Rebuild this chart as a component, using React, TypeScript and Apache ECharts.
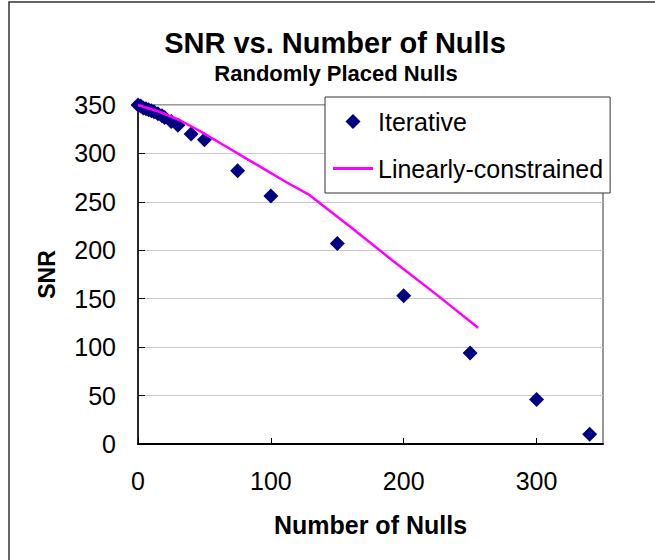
import React, { useEffect, useRef } from "react";
import * as echarts from "echarts";

const iterX = [0, 2, 4, 6, 8, 10, 12, 15, 18, 20, 25, 30, 40, 50, 75, 100, 150, 200, 250, 300, 340];
const iterY = [350, 349, 347, 346, 345, 344, 343, 341, 339, 337, 333, 329, 320, 314, 282, 256, 207, 153, 94, 46, 10];

const lineX = [0, 16, 32, 48, 64, 80, 96, 112, 128, 160, 192, 224, 256];
const lineY = [350, 343, 334, 322, 309, 296, 283, 270, 258, 224, 189, 155, 120];

const titleText = "SNR vs. Number of Nulls";
const subtitleText = "Randomly Placed Nulls";
const xName = "Number of Nulls";
const yName = "SNR";
const seriesNames = ["Iterative", "Linearly-constrained"];

const FONT = "'Liberation Sans', Arial, sans-serif";

export default function App() {
  const ref = useRef<HTMLDivElement>(null);
  useEffect(() => {
    if (!ref.current) return;
    const chart = echarts.init(ref.current, undefined, { renderer: "svg" });
    chart.setOption({
      animation: false,
      backgroundColor: "#ffffff",
      textStyle: { fontFamily: FONT },
      graphic: [
        {
          type: "rect",
          shape: { x: 9, y: 2, width: 700, height: 620 },
          style: { fill: "none", stroke: "#333333", lineWidth: 1.5 },
          silent: true,
        },
        {
          type: "text",
          x: 335,
          y: 43,
          style: {
            text: titleText,
            fontSize: 29,
            fontWeight: "bold",
            fontFamily: FONT,
            fill: "#000",
            align: "center",
            verticalAlign: "middle",
            textAlign: "center",
            textVerticalAlign: "middle",
          },
        },
        {
          type: "text",
          x: 336,
          y: 73,
          style: {
            text: subtitleText,
            fontSize: 22,
            fontWeight: "bold",
            fontFamily: FONT,
            fill: "#000",
            align: "center",
            verticalAlign: "middle",
            textAlign: "center",
            textVerticalAlign: "middle",
          },
        },
      ],
      legend: {
        orient: "vertical",
        left: 325,
        top: 97,
        padding: [12, 7, 12, 8],
        itemGap: 22,
        itemWidth: 40,
        itemHeight: 15,
        symbolKeepAspect: true,
        backgroundColor: "#ffffff",
        borderColor: "#333333",
        borderWidth: 1,
        textStyle: { fontSize: 25, color: "#000", fontFamily: FONT },
        data: [
          { name: seriesNames[0], icon: "path://M7.5,0L15,7.5L7.5,15L0,7.5Z" },
          { name: seriesNames[1], icon: "path://M0,0L40,0L40,3L0,3Z" },
        ],
      },
      grid: {
        left: 138,
        top: 105,
        width: 465,
        height: 339,
        show: true,
        borderColor: "#999999",
        borderWidth: 2,
        backgroundColor: "#ffffff",
      },
      xAxis: {
        type: "value",
        min: 0,
        max: 350,
        interval: 100,
        name: xName,
        nameLocation: "middle",
        nameGap: 68,
        nameTextStyle: { fontSize: 25, fontWeight: "bold", color: "#000", fontFamily: FONT },
        axisLine: { show: true, onZero: false, lineStyle: { color: "#000", width: 2 } },
        axisTick: { show: true, inside: true, length: 6, lineStyle: { color: "#000" } },
        axisLabel: { fontSize: 25, color: "#000", margin: 24, showMaxLabel: false, fontFamily: FONT },
        splitLine: { show: false },
      },
      yAxis: {
        type: "value",
        min: 0,
        max: 350,
        interval: 50,
        name: yName,
        nameLocation: "middle",
        nameGap: 80,
        nameTextStyle: { fontSize: 23, fontWeight: "bold", color: "#000", fontFamily: FONT },
        axisLine: { show: true, onZero: false, lineStyle: { color: "#000", width: 1.5 } },
        axisTick: { show: true, inside: true, length: 7, lineStyle: { color: "#000" } },
        axisLabel: { fontSize: 25, color: "#000", margin: 22, fontFamily: FONT },
        splitLine: { show: true, lineStyle: { color: "#c8c8c8", width: 1 } },
      },
      series: [
        {
          name: seriesNames[0],
          type: "scatter",
          symbol: "diamond",
          symbolSize: 15,
          clip: false,
          itemStyle: { color: "#000080", opacity: 1 },
          data: iterX.map((x, i) => [x, iterY[i]]),
          z: 2,
        },
        {
          name: seriesNames[1],
          type: "line",
          symbol: "none",
          showSymbol: false,
          clip: false,
          lineStyle: { color: "#ff00ff", width: 2.5 },
          itemStyle: { color: "#ff00ff" },
          data: lineX.map((x, i) => [x, lineY[i]]),
          z: 3,
        },
      ],
    });
    return () => chart.dispose();
  }, []);
  return (
    <div
      ref={ref}
      style={{ position: "absolute", left: 0, top: 0, width: 655, height: 560, background: "#fff" }}
    />
  );
}
